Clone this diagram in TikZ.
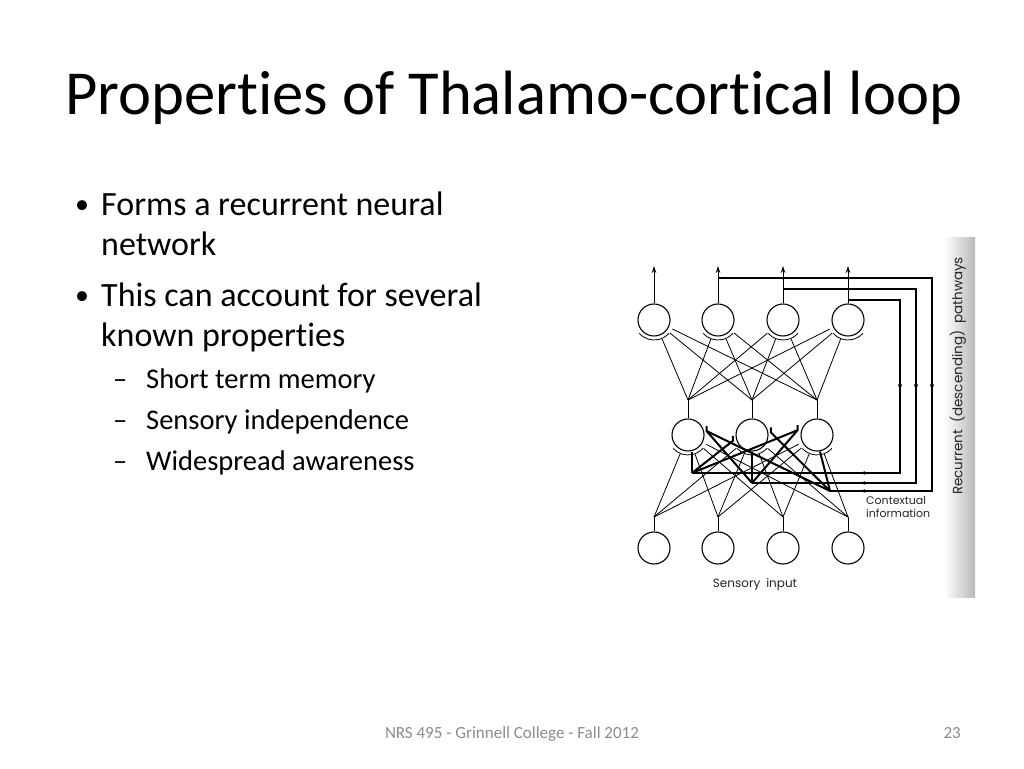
\documentclass[tikz,border=0pt]{standalone}
\usepackage{fontspec}
\setmainfont{Carlito}[Ligatures=NoCommon]
\newfontfamily\figfont{Poppins}
\usetikzlibrary{arrows.meta,decorations.markings}
\begin{document}
\begin{tikzpicture}[x=1pt,y=1pt,>={Stealth[length=7pt,width=4.5pt]},
  neuron/.style={draw,circle,line width=1.1pt,minimum size=32pt,inner sep=0pt},
  wire/.style={line width=0.8pt},
  loopwire/.style={line width=2pt},
  fbtips/.style 2 args={postaction={decorate,decoration={markings,
    mark=at position #1pt with {\arrow{Stealth[length=6pt,width=4.5pt]}},
    mark=at position #2pt with {\arrow{Stealth[length=5pt,width=3.5pt,open,line width=0.8pt]}}}}},
  bodytext/.style={anchor=base west,inner sep=0pt,font=\fontsize{34}{40}\selectfont},
  subtext/.style={anchor=base west,inner sep=0pt,font=\fontsize{28.5}{33}\selectfont},
  bulletmark/.style={anchor=base west,inner sep=0pt,font=\fontsize{28}{33}\selectfont},
  figlabel/.style={font=\figfont\fontsize{11}{13}\selectfont,text=black!85}]
\useasboundingbox (0,0) rectangle (1024,768);
\fill[white] (0,0) rectangle (1024,768);
% slide text
\node[anchor=base west,inner sep=0pt,font=\fontsize{62.6}{72}\selectfont] (title) at (65,653) {Properties of Thalamo-cortical loop};
\node[bulletmark] (b1) at (75,554) {•};
\node[bodytext] (l1) at (101,552) {Forms a recurrent neural};
\node[bodytext] (l2) at (101,512) {network};
\node[bulletmark] (b2) at (75,463) {•};
\node[bodytext] (l3) at (101,461) {This can account for several};
\node[bodytext] (l4) at (101,421) {known properties};
\foreach \t [count=\i] in {Short term memory,Sensory independence,Widespread awareness}{
  \node[subtext] (d\i) at (113,420-41*\i) {–};
  \node[subtext] (s\i text) at (146,420-41*\i) {\t};
}
\node[anchor=base,inner sep=0pt,text=black!45,font=\fontsize{17}{20}\selectfont] (foot) at (512,30) {NRS 495 - Grinnell College - Fall 2012};
\node[anchor=base east,inner sep=0pt,text=black!45,font=\fontsize{17}{20}\selectfont] (page) at (961,30) {23};
% scanned figure
\shade[left color=white,right color=black!28] (944,170) rectangle (975,530);
\foreach \x [count=\i] in {654,718,783,848}{
  \node[neuron] (t\i) at (\x,448) {};
  \coordinate (up\i) at (\x,502);
  \draw[wire,->] (t\i) -- (up\i);
  \draw[wire] ([shift={(222:20)}]t\i.center) arc[start angle=222,end angle=318,radius=20];
  \node[neuron] (s\i) at (\x,220) {};
  \coordinate (js\i) at (\x,251);
  \draw[wire] (s\i) -- (js\i);
}
\foreach \x [count=\k] in {688,752,817}{
  \node[neuron] (m\k) at (\x,333) {};
  \coordinate (jm\k) at (\x,368);
  \draw[wire] (m\k) -- (jm\k);
  \draw[wire] ([shift={(222:20)}]m\k.center) arc[start angle=222,end angle=318,radius=20];
}
\foreach \k in {1,2,3}
  \foreach \i in {1,...,4}{
    \draw[wire,shorten >=4pt] (jm\k) -- (t\i);
    \draw[wire,shorten >=4pt] (js\i) -- (m\k);
  }
% recurrent pathways
\coordinate (fb2) at (718,490);
\coordinate (fb3) at (783,479);
\coordinate (fb4) at (848,467.5);
\coordinate (cA) at (692,295);
\coordinate (cB) at (752,285);
\coordinate (cC) at (830,277);
\draw[loopwire,fbtips={141.5}{264.5}] (fb4) -| (900,295) -- (cA);
\draw[loopwire,fbtips={234}{383}] (fb3) -| (916,285) -- (cB);
\draw[loopwire,fbtips={326}{499}] (fb2) -| (932,277) -- (cC);
\draw[loopwire] (cA) -- ([xshift=4pt]m1.south);
\draw[loopwire] (cB) -- (m2.south);
\draw[loopwire] (cC) -- ([xshift=3pt]m3.south);
\draw[loopwire] (cA) -- ([shift={(197:20)}]m2.center) -- ++(0,5);
\draw[loopwire] (cA) -- ([shift={(166:20)}]m3.center) -- ++(0,5);
\draw[loopwire] (cB) -- ([shift={(12:19)}]m1.center) -- ++(0,5);
\draw[loopwire] (cB) -- ([shift={(166:20)}]m3.center);
\draw[loopwire] (cC) -- ([shift={(12:19)}]m1.center);
\draw[loopwire] (cC) -- ([shift={(8:19)}]m2.center) -- ++(0,5);
% labels
\node[figlabel,anchor=north west,align=left,inner sep=0pt] (ctx) at (866,272) {Contextual\\information};
\node[figlabel,font=\figfont\fontsize{12}{14}\selectfont] (sens) at (755,184) {Sensory\enspace input};
\node[figlabel,font=\figfont\fontsize{13.5}{16}\selectfont,rotate=90] (rec) at (958,392) {Recurrent\enspace(descending)\enspace pathways};
\end{tikzpicture}
\end{document}
